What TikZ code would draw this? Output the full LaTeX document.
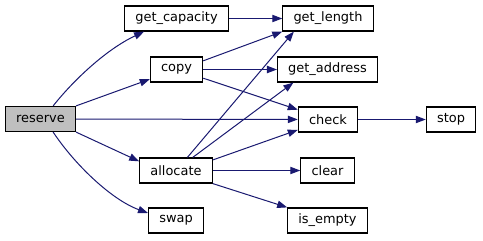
\documentclass[tikz,border=0pt]{standalone}
\usepackage{fontspec}
\setmainfont{DejaVu Sans}
\usetikzlibrary{arrows.meta}
\definecolor{edgeblue}{HTML}{191970}

\begin{document}
\begin{tikzpicture}[x=0.75pt,y=-0.75pt,
    fn/.style={draw=black,line width=0.9pt,inner xsep=8pt,inner ysep=0pt,
      minimum height=18.75pt,font=\fontsize{9.7}{12}\selectfont},
    root/.style={fn,fill=black!25},
    call/.style={draw=edgeblue,line width=0.75pt,
      -{Triangle[length=7.5pt,width=5.5pt,fill=edgeblue]}}]
    \useasboundingbox (0,0) rectangle (483,240);
    % functions, one column per call depth
    \node[root] (reserve)     at (40.5,119)   {reserve};
    \node[fn]   (getcap)      at (176.5,18.5) {get\_capacity};
    \node[fn]   (copy)        at (176.5,69.5) {copy};
    \node[fn]   (allocate)    at (176,170.5)  {allocate};
    \node[fn]   (swap)        at (176,220.5)  {swap};
    \node[fn]   (getlen)      at (328,18.5)   {get\_length};
    \node[fn]   (getaddr)     at (327.5,69.5) {get\_address};
    \node[fn]   (check)       at (328,119.5)  {check};
    \node[fn]   (clear)       at (327.5,170.5){clear};
    \node[fn]   (isempty)     at (327.5,220.5){is\_empty};
    \node[fn]   (stop)        at (451,119.5)  {stop};
    % calls made by reserve
    \draw[call] (reserve.46) .. controls (72,82) and (105,50) .. (getcap.202);
    \draw[call] (reserve.north east) -- (copy.200);
    \draw[call] (reserve) -- (check);
    \draw[call] (reserve.south east) -- (allocate.166);
    \draw[call] (reserve.-46) .. controls (75,165) and (112,200) .. (swap.165);
    % second level
    \draw[call] (getcap) -- (getlen);
    \draw[call] (copy.18) -- (getlen.south west);
    \draw[call] (copy) -- (getaddr);
    \draw[call] (copy.-18) -- (check.162);
    \draw[call] (allocate.49) -- (getlen.201);
    \draw[call] (allocate.38) -- (getaddr.201);
    \draw[call] (allocate.16) -- (check.199);
    \draw[call] (allocate) -- (clear);
    \draw[call] (allocate.south east) -- (isempty.162);
    \draw[call] (check) -- (stop);
\end{tikzpicture}
\end{document}
